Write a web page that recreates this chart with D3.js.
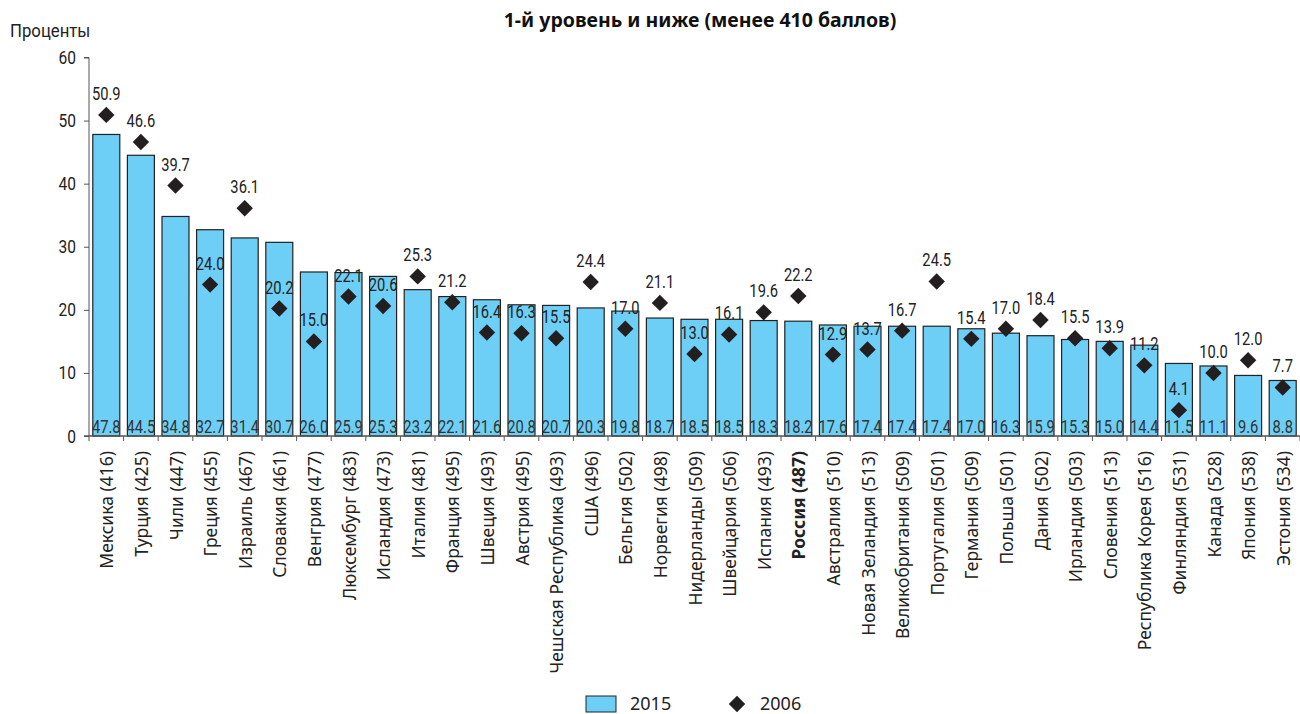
<!DOCTYPE html>
<html><head><meta charset="utf-8">
<script src="https://cdn.jsdelivr.net/npm/d3@7"></script>
<style>body{margin:0;background:#fff}</style></head>
<body><svg id="c" width="1300" height="714"></svg>
<script>
const countries = ["Мексика","Турция","Чили","Греция","Израиль","Словакия","Венгрия","Люксембург","Исландия","Италия","Франция","Швеция","Австрия","Чешская Республика","США","Бельгия","Норвегия","Нидерланды","Швейцария","Испания","Россия","Австралия","Новая Зеландия","Великобритания","Португалия","Германия","Польша","Дания","Ирландия","Словения","Республика Корея","Финляндия","Канада","Япония","Эстония"];
const scores = [416,425,447,455,467,461,477,483,473,481,495,493,495,493,496,502,498,509,506,493,487,510,513,509,501,509,501,502,503,513,516,531,528,538,534];
const values2015 = [47.8,44.5,34.8,32.7,31.4,30.7,26.0,25.9,25.3,23.2,22.1,21.6,20.8,20.7,20.3,19.8,18.7,18.5,18.5,18.3,18.2,17.6,17.4,17.4,17.4,17.0,16.3,15.9,15.3,15.0,14.4,11.5,11.1,9.6,8.8];
const values2006 = [50.9,46.6,39.7,24.0,36.1,20.2,15.0,22.1,20.6,25.3,21.2,16.4,16.3,15.5,24.4,17.0,21.1,13.0,16.1,19.6,22.2,12.9,13.7,16.7,24.5,15.4,17.0,18.4,15.5,13.9,11.2,4.1,10.0,12.0,7.7];
const yTicks = [0,10,20,30,40,50,60];
const highlight = "Россия";

const svg = d3.select("#c");
const numFont = "Roboto,'Liberation Sans',sans-serif";
const labFont = "'Noto Sans','Open Sans',sans-serif";
const SX = 0.84; // horizontal condensing of numeric labels
const x = d3.scaleBand().domain(countries).range([89,1300]).paddingInner(0.22).paddingOuter(0.11);
const y = d3.scaleLinear().domain([0,60]).range([436,57.5]);

svg.append("text").attr("x",700).attr("y",27).attr("text-anchor","middle")
  .attr("font-family",labFont).attr("font-weight","bold").attr("font-size",19.5).attr("fill","#111")
  .text("1-й уровень и ниже (менее 410 баллов)");
svg.append("text").attr("transform",`translate(10,37) scale(0.93,1)`).attr("font-family",numFont).attr("font-size",18).attr("fill","#222").text("Проценты");

// y axis
const ya = svg.append("g").attr("transform","translate(89,0)")
  .call(d3.axisLeft(y).tickValues(yTicks).tickSize(5).tickFormat(""));
ya.select(".domain").attr("stroke","#555").attr("d","M-5,57.5H0V436");
ya.selectAll("line").attr("stroke","#555");
svg.append("g").selectAll("text").data(yTicks).join("text")
  .attr("transform",d=>`translate(76,${y(d)+6.5}) scale(${SX},1)`).attr("text-anchor","end")
  .attr("font-family",numFont).attr("font-size",18.5).attr("fill","#222").text(d=>d);

// bars
const bw = x.bandwidth();
svg.append("g").selectAll("rect").data(countries).join("rect")
  .attr("x",(d)=>x(d)).attr("width",bw)
  .attr("y",(d,i)=>y(values2015[i])).attr("height",(d,i)=>y(0)-y(values2015[i]))
  .attr("fill","#6dcff6").attr("stroke","#222").attr("stroke-width",1.2);

// x axis
const xa = svg.append("g").attr("transform","translate(0,436)")
  .call(d3.axisBottom(x).tickSize(0).tickFormat(""));
xa.select(".domain").attr("stroke","#555").attr("stroke-width",1.5).attr("d","M84,0H1300");
svg.append("g").selectAll("line").data(d3.range(countries.length+1)).join("line")
  .attr("x1",i=>89+i*((1300-89)/35)).attr("x2",i=>89+i*((1300-89)/35))
  .attr("y1",436).attr("y2",441).attr("stroke","#555");

// bar value labels
svg.append("g").selectAll("text").data(countries).join("text")
  .attr("transform",d=>`translate(${x(d)+bw/2},433) scale(${SX},1)`).attr("text-anchor","middle")
  .attr("font-family",numFont).attr("font-size",17.5).attr("fill","#333")
  .text((d,i)=>values2015[i].toFixed(1));

// category labels
svg.append("g").selectAll("text").data(countries).join("text")
  .attr("transform",d=>`translate(${x(d)+bw/2+7},451) rotate(-90)`)
  .attr("text-anchor","end")
  .attr("font-family",labFont).attr("font-size",17.5).attr("fill","#222")
  .attr("font-weight",d=>d===highlight?"bold":"normal")
  .text((d,i)=>`${d} (${scores[i]})`);

// diamonds
const dm = d3.symbol().type(d3.symbolSquare).size(135);
svg.append("g").selectAll("path").data(countries).join("path")
  .attr("d",dm)
  .attr("transform",(d,i)=>`translate(${x(d)+bw/2},${y(values2006[i])}) rotate(45)`)
  .attr("fill","#231f20");
svg.append("g").selectAll("text").data(countries).join("text")
  .attr("transform",(d,i)=>`translate(${x(d)+bw/2},${y(values2006[i])-15}) scale(${SX},1)`).attr("text-anchor","middle")
  .attr("font-family",numFont).attr("font-size",17.5).attr("fill","#222")
  .text((d,i)=>values2006[i].toFixed(1));

// legend
const lg = svg.append("g");
lg.append("rect").attr("x",586).attr("y",696).attr("width",30).attr("height",16)
  .attr("fill","#6dcff6").attr("stroke","#222");
lg.append("text").attr("x",630).attr("y",710).attr("font-family",labFont).attr("font-size",18).attr("fill","#222").text("2015");
lg.append("path").attr("d",dm).attr("transform","translate(737,704) rotate(45)").attr("fill","#231f20");
lg.append("text").attr("x",760).attr("y",710).attr("font-family",labFont).attr("font-size",18).attr("fill","#222").text("2006");
</script></body></html>
